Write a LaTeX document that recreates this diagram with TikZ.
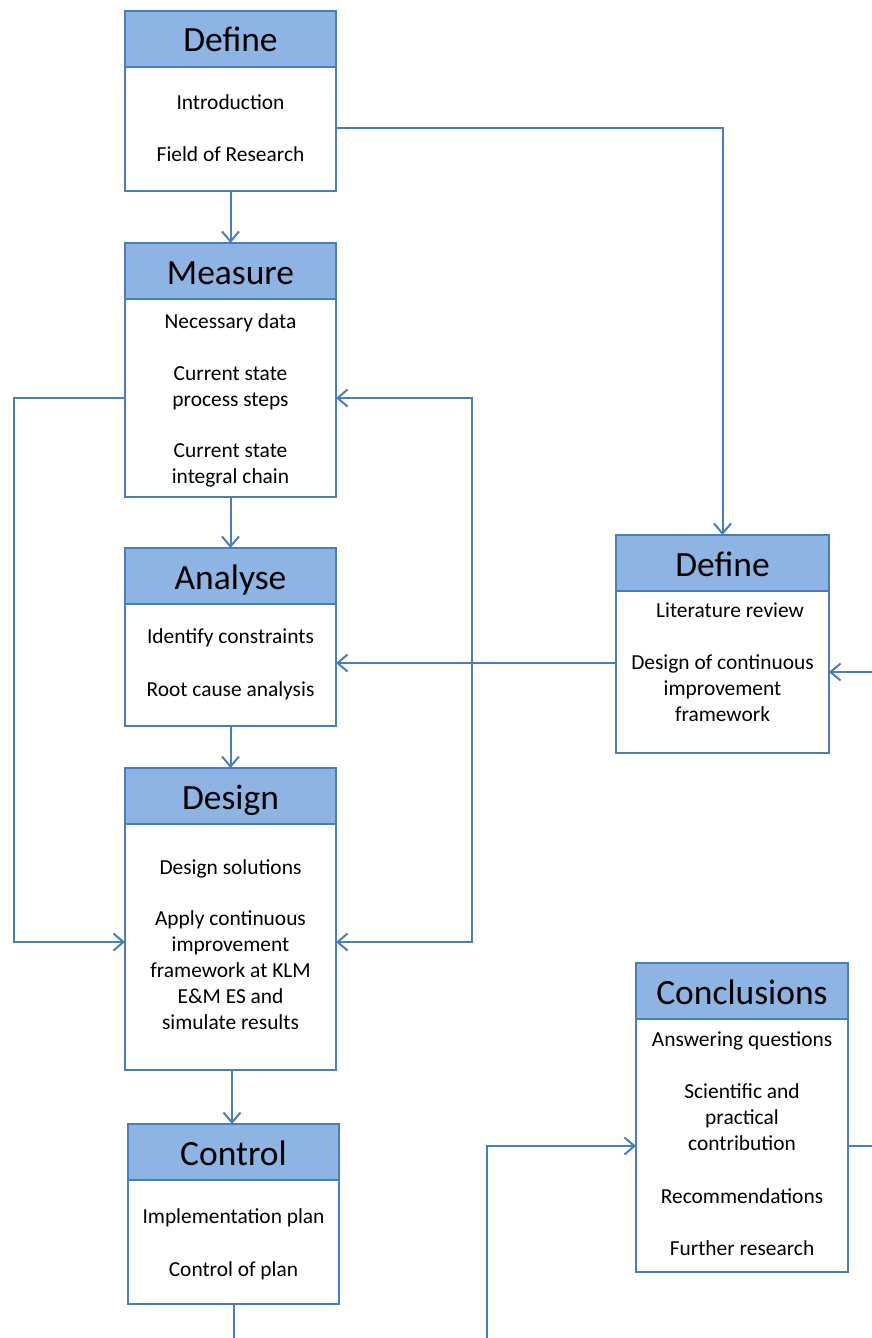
\documentclass[tikz,border=0pt]{standalone}
\usepackage{fontspec}
\setmainfont{Carlito}
\usetikzlibrary{arrows.meta}
\definecolor{edge}{HTML}{4A7EBB}
\definecolor{head}{HTML}{8EB4E3}

% phase box: name, left, top, width, height, title
\newcommand{\phasebox}[6]{%
  \node[panel, minimum width=#4pt, minimum height=#5pt] (#1) at (#2,#3) {};
  \node[panel, fill=head, minimum width=#4pt, minimum height=56pt] (#1-h) at (#2,#3) {};
  \node[title] (#1-t) at ([yshift=-41pt]#1-h.north) {#6};
}

\begin{document}
\begin{tikzpicture}[x=1pt,y=-1pt,
  panel/.style={draw=edge, line width=2pt, fill=white, anchor=north west,
                inner sep=0pt, outer sep=0pt},
  title/.style={anchor=base, inner sep=0pt, font=\fontsize{35.5}{42}\selectfont},
  txt/.style={anchor=base, inner sep=0pt, font=\fontsize{21.4}{26}\selectfont},
  link/.style={draw=edge, line width=2pt},
  flow/.style={link, -{Straight Barb[length=10pt,width=17pt]}},
]
\useasboundingbox (0,0) rectangle (872,1338);

% left column
\phasebox{def}{125}{11}{211}{180}{Define}
\node[txt] (def-1) at (230.5,109) {Introduction};
\node[txt] (def-2) at (230.5,161) {Field of Research};

\phasebox{mea}{125}{243}{211}{254}{Measure}
\node[txt] (mea-1) at (230.5,328) {Necessary data};
\node[txt] (mea-2) at (230.5,380) {Current state};
\node[txt] (mea-3) at (230.5,406) {process steps};
\node[txt] (mea-4) at (230.5,457) {Current state};
\node[txt] (mea-5) at (230.5,483) {integral chain};

\phasebox{ana}{125}{548}{211}{178}{Analyse}
\node[txt] (ana-1) at (230.5,643) {Identify constraints};
\node[txt] (ana-2) at (230.5,696) {Root cause analysis};

\phasebox{des}{125}{768}{211}{302}{Design}
\node[txt] (des-1) at (230.5,874) {Design solutions};
\node[txt] (des-2) at (230.5,925) {Apply continuous};
\node[txt] (des-3) at (230.5,951) {improvement};
\node[txt] (des-4) at (230.5,977) {framework at KLM};
\node[txt] (des-5) at (230.5,1003) {E\&M ES and};
\node[txt] (des-6) at (230.5,1029) {simulate results};

\phasebox{ctl}{128}{1124}{211}{180}{Control}
\node[txt] (ctl-1) at (233.5,1223) {Implementation plan};
\node[txt] (ctl-2) at (233.5,1276) {Control of plan};

% right column
\phasebox{lit}{616}{535}{213}{218}{Define}
\node[txt] (lit-1) at (730,617) {Literature review};
\node[txt] (lit-2) at (722.5,669) {Design of continuous};
\node[txt] (lit-3) at (722.5,695) {improvement};
\node[txt] (lit-4) at (722.5,721) {framework};

\phasebox{con}{636}{963}{212}{309}{Conclusions}
\node[txt] (con-1) at (742,1046) {Answering questions};
\node[txt] (con-2) at (742,1098) {Scientific and};
\node[txt] (con-3) at (742,1124) {practical};
\node[txt] (con-4) at (742,1150) {contribution};
\node[txt] (con-5) at (742,1203) {Recommendations};
\node[txt] (con-6) at (742,1255) {Further research};

% routing coordinates
\coordinate (r128) at (0,128);
\coordinate (lft) at (14,398);
\coordinate (r942) at (0,942);
\coordinate (jn) at (472,663);
\coordinate (r1146) at (0,1146);
\coordinate (rise) at (487,1345);
\coordinate (offR) at (880,1146);
\coordinate (inR) at (880,672);
\coordinate (offB) at (0,1345);
\coordinate (c232) at (232,0);

% main sequence
\draw[flow] (def) -- (mea);
\draw[flow] (mea) -- (ana);
\draw[flow] (ana) -- (des);
\draw[flow] (des.south -| c232) -- (ctl.north -| c232);
\draw[link] (ctl.south) -- (ctl.south |- offB);

% branches
\draw[flow] (def.east |- r128) -| (lit.north);
\draw[flow] (mea.west |- lft) -- (lft) |- (des.west |- r942);
\draw[flow] (lit.west |- jn) -- (ana.east |- jn);
\draw[flow] (jn) |- (mea.east |- lft);
\draw[flow] (jn) |- (des.east |- r942);
\draw[flow] (rise) |- (con.west |- r1146);
\draw[link] (con.east |- r1146) -- (offR);
\draw[flow] (inR) -- (lit.east |- inR);
\end{tikzpicture}
\end{document}
